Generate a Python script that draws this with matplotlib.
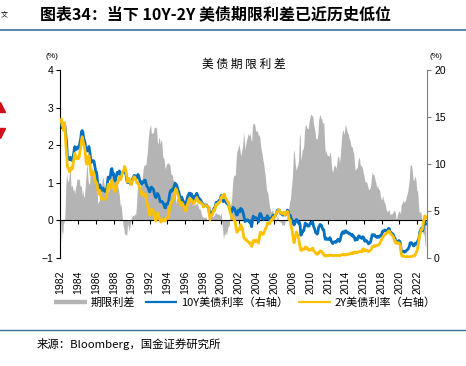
import numpy as np
import pandas as pd
import matplotlib
matplotlib.use('Agg')
import matplotlib.pyplot as plt
import matplotlib.dates as mdates
from matplotlib.lines import Line2D

# 月度数据 1982-01 ~ 2022-12 (%)
y10 = [
    14.59, 14.43, 13.86, 13.87, 13.62, 14.30, 13.95, 13.06, 12.34, 10.91, 10.55, 10.54,  # 1982
    10.46, 10.72, 10.51, 10.40, 10.38, 10.85, 11.38, 11.85, 11.65, 11.54, 11.69, 11.83,  # 1983
    11.67, 11.84, 12.32, 12.63, 13.41, 13.56, 13.36, 12.72, 12.52, 12.16, 11.57, 11.50,  # 1984
    11.38, 11.51, 11.86, 11.43, 10.85, 10.16, 10.31, 10.33, 10.37, 10.24, 9.78, 9.26,  # 1985
    9.19, 8.70, 7.78, 7.30, 7.71, 7.80, 7.30, 7.17, 7.45, 7.43, 7.25, 7.11,  # 1986
    7.08, 7.25, 7.25, 8.02, 8.61, 8.40, 8.45, 8.76, 9.42, 9.52, 8.86, 8.99,  # 1987
    8.67, 8.21, 8.37, 8.72, 9.09, 8.92, 9.06, 9.26, 8.98, 8.80, 8.96, 9.11,  # 1988
    9.09, 9.17, 9.36, 9.18, 8.86, 8.28, 8.02, 8.11, 8.19, 8.01, 7.87, 7.84,  # 1989
    8.21, 8.47, 8.59, 8.79, 8.76, 8.48, 8.47, 8.75, 8.89, 8.72, 8.39, 8.08,  # 1990
    8.09, 7.85, 8.11, 8.04, 8.07, 8.28, 8.27, 7.90, 7.65, 7.53, 7.42, 7.09,  # 1991
    7.03, 7.34, 7.54, 7.48, 7.39, 7.26, 6.84, 6.59, 6.42, 6.59, 6.87, 6.77,  # 1992
    6.60, 6.26, 5.98, 5.97, 6.04, 5.96, 5.81, 5.68, 5.36, 5.33, 5.72, 5.77,  # 1993
    5.75, 5.97, 6.48, 6.97, 7.18, 7.10, 7.30, 7.24, 7.46, 7.74, 7.96, 7.81,  # 1994
    7.78, 7.47, 7.20, 7.06, 6.63, 6.17, 6.28, 6.49, 6.20, 6.04, 5.93, 5.71,  # 1995
    5.65, 5.81, 6.27, 6.51, 6.74, 6.91, 6.87, 6.64, 6.83, 6.53, 6.20, 6.30,  # 1996
    6.58, 6.42, 6.69, 6.89, 6.71, 6.49, 6.22, 6.30, 6.21, 6.03, 5.88, 5.81,  # 1997
    5.54, 5.57, 5.65, 5.64, 5.65, 5.50, 5.46, 5.34, 4.81, 4.53, 4.83, 4.65,  # 1998
    4.72, 5.00, 5.23, 5.18, 5.54, 5.90, 5.79, 5.94, 5.92, 6.11, 6.03, 6.28,  # 1999
    6.66, 6.52, 6.26, 5.99, 6.44, 6.10, 6.05, 5.83, 5.80, 5.74, 5.72, 5.24,  # 2000
    5.16, 5.10, 4.89, 5.14, 5.39, 5.28, 5.24, 4.97, 4.73, 4.57, 4.65, 5.09,  # 2001
    5.04, 4.91, 5.28, 5.21, 5.16, 4.93, 4.65, 4.26, 3.87, 3.94, 4.05, 4.03,  # 2002
    4.05, 3.90, 3.81, 3.96, 3.57, 3.33, 3.98, 4.45, 4.27, 4.29, 4.30, 4.27,  # 2003
    4.15, 4.08, 3.83, 4.35, 4.72, 4.73, 4.50, 4.28, 4.13, 4.10, 4.19, 4.23,  # 2004
    4.22, 4.17, 4.50, 4.34, 4.14, 4.00, 4.18, 4.26, 4.20, 4.46, 4.54, 4.47,  # 2005
    4.42, 4.57, 4.72, 4.99, 5.11, 5.11, 5.09, 4.88, 4.72, 4.73, 4.60, 4.56,  # 2006
    4.76, 4.72, 4.56, 4.69, 4.75, 5.10, 5.00, 4.67, 4.52, 4.53, 4.15, 4.10,  # 2007
    3.74, 3.74, 3.51, 3.68, 3.88, 4.10, 4.01, 3.89, 3.69, 3.81, 3.53, 2.42,  # 2008
    2.52, 2.87, 2.82, 2.93, 3.29, 3.72, 3.56, 3.59, 3.40, 3.39, 3.40, 3.59,  # 2009
    3.73, 3.69, 3.73, 3.85, 3.42, 3.20, 3.01, 2.70, 2.65, 2.54, 2.76, 3.29,  # 2010
    3.39, 3.58, 3.41, 3.46, 3.17, 3.00, 3.00, 2.30, 1.98, 2.15, 2.01, 1.98,  # 2011
    1.97, 1.97, 2.17, 2.05, 1.80, 1.62, 1.53, 1.68, 1.72, 1.75, 1.65, 1.72,  # 2012
    1.91, 1.98, 1.96, 1.76, 1.93, 2.30, 2.58, 2.74, 2.81, 2.62, 2.72, 2.90,  # 2013
    2.86, 2.71, 2.72, 2.71, 2.56, 2.60, 2.54, 2.42, 2.53, 2.30, 2.33, 2.21,  # 2014
    1.88, 1.98, 2.04, 1.94, 2.20, 2.36, 2.32, 2.17, 2.17, 2.07, 2.26, 2.24,  # 2015
    2.09, 1.78, 1.89, 1.81, 1.81, 1.64, 1.50, 1.56, 1.63, 1.76, 2.14, 2.49,  # 2016
    2.43, 2.42, 2.48, 2.30, 2.30, 2.19, 2.32, 2.21, 2.20, 2.36, 2.35, 2.40,  # 2017
    2.58, 2.86, 2.84, 2.87, 2.98, 2.91, 2.89, 2.89, 3.00, 3.15, 3.12, 2.83,  # 2018
    2.71, 2.68, 2.57, 2.53, 2.40, 2.07, 2.06, 1.63, 1.70, 1.71, 1.81, 1.86,  # 2019
    1.76, 1.50, 0.87, 0.66, 0.67, 0.73, 0.62, 0.65, 0.68, 0.79, 0.87, 0.93,  # 2020
    1.08, 1.26, 1.61, 1.64, 1.62, 1.52, 1.32, 1.28, 1.37, 1.58, 1.56, 1.47,  # 2021
    1.76, 1.93, 2.13, 2.75, 2.90, 3.14, 2.90, 2.90, 3.52, 3.98, 3.89, 3.62,  # 2022
]

y2 = [
    14.57, 14.78, 14.13, 14.21, 13.61, 14.40, 13.71, 12.14, 11.09, 9.80, 9.54, 9.45,  # 1982
    9.16, 9.40, 9.62, 9.46, 9.49, 10.08, 10.53, 11.15, 10.79, 10.60, 10.58, 10.75,  # 1983
    10.57, 10.74, 11.39, 11.72, 12.50, 12.90, 12.55, 12.11, 11.86, 11.26, 10.41, 10.00,  # 1984
    9.99, 10.46, 10.90, 10.44, 9.46, 8.81, 8.85, 9.20, 9.18, 8.87, 8.43, 8.06,  # 1985
    8.06, 7.86, 7.35, 6.80, 7.19, 7.16, 6.64, 6.31, 6.34, 6.28, 6.22, 6.23,  # 1986
    6.29, 6.41, 6.52, 7.28, 7.84, 7.59, 7.41, 7.62, 8.14, 8.27, 7.48, 7.67,  # 1987
    7.38, 7.05, 7.25, 7.59, 8.00, 8.04, 8.26, 8.60, 8.60, 8.35, 8.69, 9.05,  # 1988
    9.23, 9.37, 9.74, 9.54, 9.22, 8.69, 8.09, 8.27, 8.48, 8.20, 7.91, 7.81,  # 1989
    8.08, 8.33, 8.48, 8.65, 8.59, 8.32, 8.09, 7.96, 7.98, 7.80, 7.55, 7.28,  # 1990
    7.12, 6.78, 6.95, 6.68, 6.61, 6.80, 6.81, 6.37, 5.93, 5.63, 5.21, 4.69,  # 1991
    4.54, 4.79, 5.23, 5.15, 5.08, 4.89, 4.36, 4.13, 3.93, 4.15, 4.77, 4.75,  # 1992
    4.39, 4.10, 3.96, 3.82, 3.93, 4.18, 4.16, 4.02, 3.92, 3.96, 4.24, 4.26,  # 1993
    4.24, 4.42, 4.99, 5.49, 5.91, 5.89, 6.07, 6.15, 6.40, 6.69, 7.05, 7.37,  # 1994
    7.22, 6.88, 6.65, 6.44, 6.00, 5.61, 5.70, 5.92, 5.77, 5.60, 5.41, 5.21,  # 1995
    5.02, 5.08, 5.59, 5.82, 6.03, 6.31, 6.30, 6.08, 6.20, 5.92, 5.80, 5.89,  # 1996
    6.01, 6.03, 6.26, 6.43, 6.26, 6.11, 5.91, 5.99, 5.93, 5.83, 5.76, 5.74,  # 1997
    5.42, 5.51, 5.56, 5.56, 5.59, 5.52, 5.46, 5.27, 4.67, 4.09, 4.53, 4.52,  # 1998
    4.61, 4.90, 5.11, 5.03, 5.33, 5.70, 5.62, 5.77, 5.75, 5.94, 5.92, 6.13,  # 1999
    6.44, 6.61, 6.53, 6.40, 6.81, 6.48, 6.34, 6.23, 6.08, 5.91, 5.88, 5.35,  # 2000
    4.76, 4.66, 4.34, 4.23, 4.26, 4.08, 4.04, 3.76, 3.12, 2.73, 2.78, 3.11,  # 2001
    3.03, 3.02, 3.56, 3.42, 3.26, 2.91, 2.29, 2.13, 2.00, 1.91, 1.92, 1.84,  # 2002
    1.74, 1.63, 1.57, 1.62, 1.42, 1.23, 1.47, 1.86, 1.70, 1.73, 1.89, 1.91,  # 2003
    1.76, 1.74, 1.58, 2.07, 2.53, 2.76, 2.64, 2.51, 2.53, 2.58, 2.85, 3.01,  # 2004
    3.22, 3.38, 3.73, 3.65, 3.64, 3.64, 3.87, 4.04, 3.95, 4.17, 4.33, 4.39,  # 2005
    4.35, 4.64, 4.74, 4.89, 4.97, 5.12, 5.12, 4.90, 4.77, 4.80, 4.74, 4.67,  # 2006
    4.88, 4.85, 4.57, 4.67, 4.77, 4.96, 4.82, 4.31, 4.01, 3.97, 3.34, 3.12,  # 2007
    2.48, 1.97, 1.62, 2.05, 2.45, 2.77, 2.57, 2.42, 2.08, 1.61, 1.21, 0.82,  # 2008
    0.81, 0.98, 0.93, 0.93, 0.92, 1.18, 1.02, 1.12, 0.96, 0.95, 0.80, 0.87,  # 2009
    0.93, 0.86, 0.96, 1.06, 0.83, 0.72, 0.62, 0.52, 0.47, 0.38, 0.45, 0.62,  # 2010
    0.61, 0.77, 0.70, 0.73, 0.56, 0.41, 0.41, 0.23, 0.20, 0.28, 0.25, 0.26,  # 2011
    0.24, 0.28, 0.34, 0.29, 0.29, 0.29, 0.25, 0.27, 0.26, 0.28, 0.27, 0.26,  # 2012
    0.27, 0.27, 0.26, 0.23, 0.25, 0.33, 0.34, 0.36, 0.40, 0.34, 0.30, 0.34,  # 2013
    0.39, 0.33, 0.40, 0.42, 0.39, 0.45, 0.51, 0.47, 0.57, 0.45, 0.53, 0.64,  # 2014
    0.55, 0.62, 0.64, 0.54, 0.61, 0.69, 0.67, 0.70, 0.71, 0.64, 0.88, 0.98,  # 2015
    0.90, 0.73, 0.88, 0.77, 0.82, 0.73, 0.67, 0.74, 0.77, 0.84, 0.98, 1.20,  # 2016
    1.21, 1.20, 1.31, 1.24, 1.30, 1.34, 1.37, 1.34, 1.38, 1.55, 1.70, 1.84,  # 2017
    2.03, 2.18, 2.28, 2.38, 2.51, 2.53, 2.61, 2.65, 2.77, 2.86, 2.86, 2.68,  # 2018
    2.54, 2.50, 2.39, 2.31, 2.15, 1.80, 1.84, 1.57, 1.65, 1.55, 1.61, 1.61,  # 2019
    1.52, 1.33, 0.45, 0.22, 0.17, 0.19, 0.15, 0.14, 0.13, 0.14, 0.17, 0.13,  # 2020
    0.13, 0.12, 0.15, 0.16, 0.16, 0.20, 0.22, 0.22, 0.24, 0.39, 0.52, 0.69,  # 2021
    0.97, 1.44, 1.91, 2.54, 2.65, 3.00, 3.02, 3.25, 3.86, 4.38, 4.50, 4.29,  # 2022
]

# 10Y-2Y 期限利差 (左轴)
spread = [
    0.02, -0.60, -0.27, -0.34, 0.01, -0.10, 0.24, 0.92, 1.25, 1.11, 1.01, 1.09,  # 1982
    1.30, 1.32, 0.89, 0.94, 0.89, 0.77, 0.85, 0.70, 0.86, 0.94, 1.11, 1.08,  # 1983
    1.10, 1.10, 0.93, 0.91, 0.91, 0.66, 0.81, 0.61, 0.66, 0.90, 1.16, 1.50,  # 1984
    1.39, 1.05, 0.96, 0.99, 1.39, 1.35, 1.46, 1.13, 1.19, 1.37, 1.35, 1.20,  # 1985
    1.13, 0.84, 0.43, 0.50, 0.52, 0.64, 0.66, 0.86, 1.11, 1.15, 1.03, 0.88,  # 1986
    0.79, 0.84, 0.73, 0.74, 0.77, 0.81, 1.04, 1.14, 1.28, 1.25, 1.38, 1.32,  # 1987
    1.29, 1.16, 1.12, 1.13, 1.09, 0.88, 0.80, 0.66, 0.38, 0.45, 0.27, 0.06,  # 1988
    -0.14, -0.20, -0.38, -0.36, -0.36, -0.41, -0.07, -0.16, -0.29, -0.19, -0.04, 0.03,  # 1989
    0.13, 0.14, 0.11, 0.14, 0.17, 0.16, 0.38, 0.79, 0.91, 0.92, 0.84, 0.80,  # 1990
    0.97, 1.07, 1.16, 1.36, 1.46, 1.48, 1.46, 1.53, 1.72, 1.90, 2.21, 2.40,  # 1991
    2.49, 2.55, 2.31, 2.33, 2.31, 2.37, 2.48, 2.46, 2.49, 2.44, 2.10, 2.02,  # 1992
    2.21, 2.16, 2.02, 2.15, 2.11, 1.78, 1.65, 1.66, 1.44, 1.37, 1.48, 1.51,  # 1993
    1.51, 1.55, 1.49, 1.48, 1.27, 1.21, 1.23, 1.09, 1.06, 1.05, 0.91, 0.44,  # 1994
    0.56, 0.59, 0.55, 0.62, 0.63, 0.56, 0.58, 0.57, 0.43, 0.44, 0.52, 0.50,  # 1995
    0.63, 0.73, 0.68, 0.69, 0.71, 0.60, 0.57, 0.56, 0.63, 0.61, 0.40, 0.41,  # 1996
    0.57, 0.39, 0.43, 0.46, 0.45, 0.38, 0.31, 0.31, 0.28, 0.20, 0.12, 0.07,  # 1997
    0.12, 0.06, 0.09, 0.08, 0.06, -0.02, 0.00, 0.07, 0.14, 0.44, 0.30, 0.13,  # 1998
    0.11, 0.10, 0.12, 0.15, 0.21, 0.20, 0.17, 0.17, 0.17, 0.17, 0.11, 0.15,  # 1999
    0.22, -0.09, -0.27, -0.50, -0.37, -0.38, -0.29, -0.40, -0.28, -0.17, -0.16, -0.11,  # 2000
    0.40, 0.44, 0.55, 0.91, 1.13, 1.20, 1.20, 1.21, 1.61, 1.84, 1.87, 1.98,  # 2001
    2.01, 1.89, 1.72, 1.79, 1.90, 2.02, 2.36, 2.13, 1.87, 2.03, 2.13, 2.19,  # 2002
    2.31, 2.27, 2.24, 2.34, 2.15, 2.10, 2.51, 2.59, 2.57, 2.56, 2.41, 2.36,  # 2003
    2.39, 2.34, 2.25, 2.28, 2.19, 1.97, 1.86, 1.77, 1.60, 1.52, 1.34, 1.22,  # 2004
    1.00, 0.79, 0.77, 0.69, 0.50, 0.36, 0.31, 0.22, 0.25, 0.29, 0.21, 0.08,  # 2005
    0.07, -0.07, -0.02, 0.10, 0.14, -0.01, -0.03, -0.02, -0.05, -0.07, -0.14, -0.11,  # 2006
    -0.12, -0.13, -0.01, 0.02, -0.02, 0.14, 0.18, 0.36, 0.51, 0.56, 0.81, 0.98,  # 2007
    1.26, 1.77, 1.89, 1.63, 1.43, 1.33, 1.44, 1.47, 1.61, 2.20, 2.32, 1.60,  # 2008
    1.71, 1.89, 1.89, 2.00, 2.37, 2.54, 2.54, 2.47, 2.44, 2.44, 2.60, 2.72,  # 2009
    2.80, 2.83, 2.77, 2.79, 2.59, 2.48, 2.39, 2.18, 2.18, 2.16, 2.31, 2.67,  # 2010
    2.78, 2.81, 2.71, 2.73, 2.61, 2.59, 2.59, 2.07, 1.78, 1.87, 1.76, 1.72,  # 2011
    1.73, 1.69, 1.83, 1.76, 1.51, 1.33, 1.28, 1.41, 1.46, 1.47, 1.38, 1.46,  # 2012
    1.64, 1.71, 1.70, 1.53, 1.68, 1.97, 2.24, 2.38, 2.41, 2.28, 2.42, 2.56,  # 2013
    2.47, 2.38, 2.32, 2.29, 2.17, 2.15, 2.03, 1.95, 1.96, 1.85, 1.80, 1.57,  # 2014
    1.33, 1.36, 1.40, 1.40, 1.59, 1.67, 1.65, 1.47, 1.46, 1.43, 1.38, 1.26,  # 2015
    1.19, 1.05, 1.01, 1.04, 0.99, 0.91, 0.83, 0.82, 0.86, 0.92, 1.16, 1.29,  # 2016
    1.22, 1.22, 1.17, 1.06, 1.00, 0.85, 0.95, 0.87, 0.82, 0.81, 0.65, 0.56,  # 2017
    0.55, 0.68, 0.56, 0.49, 0.47, 0.38, 0.28, 0.24, 0.23, 0.29, 0.26, 0.15,  # 2018
    0.17, 0.18, 0.18, 0.22, 0.25, 0.27, 0.22, 0.06, 0.05, 0.16, 0.20, 0.25,  # 2019
    0.24, 0.17, 0.42, 0.44, 0.50, 0.54, 0.47, 0.51, 0.55, 0.65, 0.70, 0.80,  # 2020
    0.95, 1.14, 1.46, 1.48, 1.46, 1.32, 1.10, 1.06, 1.13, 1.19, 1.04, 0.78,  # 2021
    0.79, 0.49, 0.22, 0.21, 0.25, 0.14, -0.12, -0.35, -0.34, -0.40, -0.65, -0.75,  # 2022
]

dates = pd.date_range('1982-01-01', '2022-12-01', freq='MS') + pd.Timedelta(days=14)

plt.rcParams['font.family'] = ['Liberation Sans', 'Noto Sans CJK SC', 'DejaVu Sans']
cjk = ['Noto Sans CJK SC', 'DejaVu Sans']

W, H = 466, 366
fig = plt.figure(figsize=(W / 100, H / 100), dpi=100)
ax = fig.add_axes([60 / W, 1 - 258 / H, (427 - 60) / W, (258 - 70) / H])

# 期限利差 面积
ax.fill_between(dates, spread, 0, color='#b4b4b4', lw=0)
ax.set_ylim(-1, 4)
ax.set_yticks(range(-1, 5))
ax.set_xlim(pd.Timestamp('1981-12-20'), pd.Timestamp('2023-02-05'))
ax.xaxis.set_major_locator(mdates.YearLocator(2))
ax.xaxis.set_major_formatter(mdates.DateFormatter('%Y'))
ax.spines['bottom'].set_position(('data', 0))
ax.spines['top'].set_visible(False)
ax.spines['right'].set_visible(False)
ax.tick_params(axis='x', direction='out', length=3, pad=33, labelsize=7.5,
               labelrotation=90)
ax.tick_params(axis='y', direction='out', length=3, labelsize=7.5, pad=2)

# 收益率 右轴
ax2 = ax.twinx()
ax2.plot(dates, y10, color='#0070C0', lw=2.0)
ax2.plot(dates, y2, color='#FFC000', lw=2.0)
ax2.set_ylim(0, 20)
ax2.set_yticks(range(0, 21, 5))
for s in ['top', 'bottom', 'left']:
    ax2.spines[s].set_visible(False)
ax2.spines['right'].set_color('#7f7f7f')
ax2.tick_params(axis='y', direction='out', length=3, labelsize=7.5, pad=2,
                color='#7f7f7f')

fig.text(244 / W, 1 - 64 / H, '美 债 期 限 利 差', ha='center', va='center',
         fontsize=8.5, family=cjk)
fig.text(52 / W, 1 - 57 / H, '(%)', ha='center', va='center', fontsize=6)
fig.text(436 / W, 1 - 57 / H, '(%)', ha='center', va='center', fontsize=6)

handles = [Line2D([], [], color='#b4b4b4', lw=3.2, solid_capstyle='butt'),
           Line2D([], [], color='#0070C0', lw=1.6, solid_capstyle='butt'),
           Line2D([], [], color='#FFC000', lw=1.6, solid_capstyle='butt')]
labels = ['期限利差', '10Y美债利率（右轴）', '2Y美债利率（右轴）']
fig.legend(handles, labels, loc='center', bbox_to_anchor=(245 / W, 1 - 303 / H),
           ncol=3, frameon=False, prop={'family': cjk, 'size': 8},
           handlelength=2.9, handletextpad=0.35, columnspacing=0.9)

# 标题与分隔线
fig.text(40 / W, 1 - 14 / H, '图表34：当下 10Y-2Y 美债期限利差已近历史低位',
         ha='left', va='center', fontsize=11.5, fontweight='bold',
         style='italic', family=cjk)
fig.add_artist(Line2D([0, 1], [1 - 30 / H] * 2, transform=fig.transFigure,
                      color='#3f6f9a', lw=1.2))
fig.add_artist(Line2D([0, 1], [1 - 330 / H] * 2, transform=fig.transFigure,
                      color='#3f6f9a', lw=1.0))
fig.text(37 / W, 1 - 344 / H, '来源：Bloomberg，国金证券研究所', ha='left',
         va='center', fontsize=8.2, family=cjk)

# 左侧裁切残留
fig.text(0.5 / W, 1 - 14 / H, '文', ha='left', va='center', fontsize=5,
         family=cjk)
fig.add_artist(Line2D([0], [1 - 107 / H], transform=fig.transFigure, marker='^',
                      ms=7, color='#d0101a', lw=0, clip_on=False))
fig.add_artist(Line2D([0], [1 - 133 / H], transform=fig.transFigure, marker='v',
                      ms=7, color='#d0101a', lw=0, clip_on=False))

fig.savefig('out.png', dpi=100)
